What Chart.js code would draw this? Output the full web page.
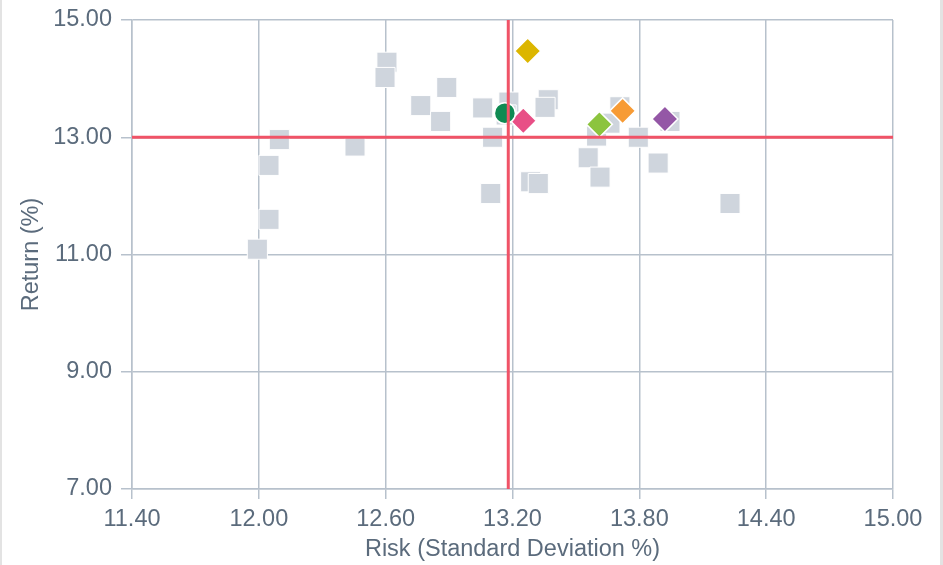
<!DOCTYPE html>
<html>
<head>
<meta charset="utf-8">
<script src="https://cdn.jsdelivr.net/npm/chart.js@4.4.1/dist/chart.umd.min.js"></script>
<style>
  html, body { margin: 0; padding: 0; background: #ffffff; }
  #wrap { width: 943px; height: 565px; box-sizing: border-box; border-left: 2px solid #e3e3e3; border-right: 3px solid #e3e3e3; background: #ffffff; }
  #wrap canvas { display: block; }
</style>
</head>
<body>
<div id="wrap"><canvas id="c"></canvas></div>
<script>
// Peer universe (grey squares): risk (x) and return (y)
const peerRisk   = [12.606, 12.597, 12.889, 12.766, 12.860, 13.059, 13.183, 13.170, 13.369, 13.354, 13.106, 13.286, 13.322, 13.097, 13.558, 13.614, 13.598, 13.708, 13.661, 13.795, 13.889, 13.945, 14.229, 12.097, 12.455, 12.048, 12.048, 11.993];
const peerReturn = [14.28, 14.02, 13.85, 13.54, 13.27, 13.50, 13.60, 13.38, 13.64, 13.51, 13.00, 12.24, 12.21, 12.04, 12.65, 12.32, 13.02, 13.52, 13.24, 13.00, 12.56, 13.27, 11.87, 12.96, 12.85, 12.52, 11.60, 11.09];

// Highlighted funds
const fundNames  = ['Benchmark', 'Fund A', 'Fund B', 'Fund C', 'Fund D', 'Fund E'];
const fundRisk   = [13.164, 13.251, 13.272, 13.611, 13.721, 13.921];
const fundReturn = [13.41, 13.28, 14.47, 13.22, 13.45, 13.31];
const fundColors = ['#0f8a52', '#e84f86', '#dcb600', '#8cc43e', '#f79b35', '#9457a6'];
const fundShapes = ['circle', 'rectRot', 'rectRot', 'rectRot', 'rectRot', 'rectRot'];

// Reference lines
const refRisk = 13.18;
const refReturn = 13.00;

// Axis ticks
const xTicks = [11.40, 12.00, 12.60, 13.20, 13.80, 14.40, 15.00];
const yTicks = [7.00, 9.00, 11.00, 13.00, 15.00];

const textColor = '#5b6b7c';
const gridColor = '#b7c1cc';
const refColor = '#f05367';
const fontFamily = '"Liberation Sans", Arial, Helvetica, sans-serif';

const datasets = [{
  label: 'Peers',
  data: peerRisk.map((x, i) => ({ x: x, y: peerReturn[i] })),
  pointStyle: 'rect',
  pointRadius: 14.2,
  pointHoverRadius: 14.2,
  backgroundColor: '#cfd5dd',
  borderColor: '#ffffff',
  borderWidth: 1,
  order: 2
}];
fundNames.forEach((n, i) => {
  datasets.push({
    label: n,
    data: [{ x: fundRisk[i], y: fundReturn[i] }],
    pointStyle: fundShapes[i],
    pointRadius: fundShapes[i] === 'circle' ? 10.5 : 13,
    pointHoverRadius: fundShapes[i] === 'circle' ? 10.5 : 13,
    backgroundColor: fundColors[i],
    borderColor: '#ffffff',
    borderWidth: 1.5,
    order: 1
  });
});

const refLines = {
  id: 'refLines',
  afterDatasetsDraw(chart) {
    const { ctx, chartArea, scales } = chart;
    const px = scales.x.getPixelForValue(refRisk);
    const py = scales.y.getPixelForValue(refReturn);
    ctx.save();
    ctx.strokeStyle = refColor;
    ctx.lineWidth = 3;
    ctx.beginPath();
    ctx.moveTo(px, chartArea.top);
    ctx.lineTo(px, chartArea.bottom);
    ctx.moveTo(chartArea.left, py);
    ctx.lineTo(chartArea.right, py);
    ctx.stroke();
    ctx.restore();
  }
};

new Chart(document.getElementById('c'), {
  type: 'scatter',
  data: { datasets: datasets },
  plugins: [refLines],
  options: {
    responsive: true,
    maintainAspectRatio: false,
    animation: false,
    events: [],
    layout: { padding: { left: 15, right: 47, top: 20, bottom: 1 } },
    plugins: { legend: { display: false }, tooltip: { enabled: false } },
    scales: {
      x: {
        type: 'linear',
        min: xTicks[0],
        max: xTicks[xTicks.length - 1],
        afterBuildTicks: (s) => { s.ticks = xTicks.map(v => ({ value: v })); },
        afterFit: (s) => { s.height = 75; s.paddingLeft = 0; s.paddingRight = 0; },
        grid: { color: gridColor, lineWidth: 1.5, tickLength: 10, drawTicks: true },
        border: { color: gridColor, width: 1.5 },
        ticks: { color: textColor, font: { family: fontFamily, size: 23.5 }, padding: 6, maxRotation: 0,
                 callback: (v) => Number(v).toFixed(2) },
        title: { display: true, text: 'Risk (Standard Deviation %)', color: textColor,
                 font: { family: fontFamily, size: 23.5 }, padding: 0 }
      },
      y: {
        type: 'linear',
        min: yTicks[0],
        max: yTicks[yTicks.length - 1],
        afterBuildTicks: (s) => { s.ticks = yTicks.map(v => ({ value: v })); },
        afterFit: (s) => { s.width = 115; s.paddingTop = 0; s.paddingBottom = 0; },
        grid: { color: gridColor, lineWidth: 1.5, tickLength: 11, drawTicks: true },
        border: { color: gridColor, width: 1.5 },
        ticks: { color: textColor, font: { family: fontFamily, size: 23.5 }, padding: 9,
                 callback: (v) => Number(v).toFixed(2) },
        title: { display: true, text: 'Return (%)', color: textColor,
                 font: { family: fontFamily, size: 23.5 }, padding: 0 }
      }
    }
  }
});
</script>
</body>
</html>
